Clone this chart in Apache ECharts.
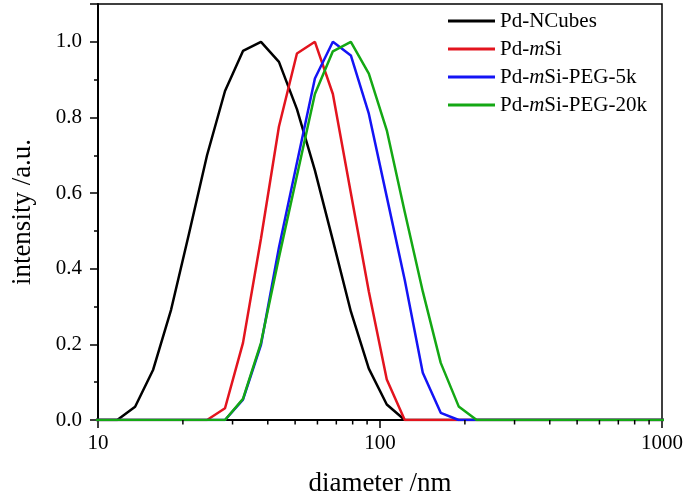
<!DOCTYPE html>
<html>
<head>
<meta charset="utf-8">
<script src="https://cdn.jsdelivr.net/npm/echarts@6/dist/echarts.min.js"></script>
<style>
  html, body { margin: 0; padding: 0; background: #fff; }
  #chart { width: 687px; height: 498px; }
</style>
</head>
<body>
<div id="chart"></div>
<script>
// Size classes (nm), log spaced
const sizes = [8.721, 10.1, 11.7, 13.54, 15.69, 18.17, 21.04, 24.36, 28.21, 32.67, 37.84, 43.82,
  50.75, 58.77, 68.06, 78.82, 91.28, 105.7, 122.4, 141.8, 164.2, 190.1, 220.2, 255.0,
  295.3, 342.0, 396.1, 458.7, 531.2, 615.1, 712.4, 825.0, 955.4, 1106];

// Intensity per size class
const nCubes = [0, 0, 0, 0.035, 0.133, 0.292, 0.494, 0.70, 0.870, 0.976, 1.0, 0.947,
  0.822, 0.66, 0.475, 0.287, 0.136, 0.041, 0, 0, 0, 0, 0, 0,
  0, 0, 0, 0, 0, 0, 0, 0, 0, 0];
const mSi = [0, 0, 0, 0, 0, 0, 0, 0, 0.031, 0.204, 0.48, 0.776,
  0.969, 1.0, 0.862, 0.60, 0.34, 0.107, 0, 0, 0, 0, 0, 0,
  0, 0, 0, 0, 0, 0, 0, 0, 0, 0];
const peg5k = [0, 0, 0, 0, 0, 0, 0, 0, 0, 0.054, 0.199, 0.456,
  0.68, 0.903, 1.0, 0.964, 0.81, 0.59, 0.37, 0.125, 0.019, 0, 0, 0,
  0, 0, 0, 0, 0, 0, 0, 0, 0, 0];
const peg20k = [0, 0, 0, 0, 0, 0, 0, 0, 0, 0.056, 0.204, 0.43,
  0.646, 0.862, 0.975, 1.0, 0.916, 0.766, 0.55, 0.34, 0.151, 0.036, 0, 0,
  0, 0, 0, 0, 0, 0, 0, 0, 0, 0];

const seriesNames = ['Pd-NCubes', 'Pd-mSi', 'Pd-mSi-PEG-5k', 'Pd-mSi-PEG-20k'];
const seriesColors = ['#000000', '#e3141e', '#1414f5', '#14a814'];
const seriesValues = [nCubes, mSi, peg5k, peg20k];

// minor ticks of the log axis
const minorXTicks = [20, 30, 40, 50, 60, 70, 80, 90, 200, 300, 400, 500, 600, 700, 800, 900];

const FONT = '"Liberation Serif", "Times New Roman", serif';

const chart = echarts.init(document.getElementById('chart'));

const lineSeries = seriesNames.map((name, i) => ({
  name: name,
  type: 'line',
  data: sizes.map((s, j) => [s, seriesValues[i][j]]),
  showSymbol: false,
  symbol: 'none',
  lineStyle: { color: seriesColors[i], width: 2.5 },
  itemStyle: { color: seriesColors[i] },
  z: 3 + i
}));

const option = {
  animation: false,
  backgroundColor: '#fff',
  grid: {
    left: 98,
    right: 25,
    top: 4,
    bottom: 78,
    outerBoundsMode: 'none',
    show: true,
    borderColor: '#000',
    borderWidth: 1.5
  },
  legend: {
    data: seriesNames,
    orient: 'vertical',
    left: 443,
    top: 5,
    icon: 'rect',
    itemWidth: 47,
    itemHeight: 3,
    itemGap: 6,
    formatter: n => n.replace('-m', '-{i|m}'),
    textStyle: {
      fontFamily: FONT,
      fontSize: 21,
      lineHeight: 22,
      color: '#000',
      rich: {
        i: { fontFamily: FONT, fontSize: 21, fontStyle: 'italic', color: '#000', lineHeight: 22 }
      }
    }
  },
  xAxis: {
    type: 'log',
    logBase: 10,
    min: 10,
    max: 1000,
    name: 'diameter /nm',
    nameLocation: 'middle',
    nameGap: 50,
    nameTextStyle: { fontFamily: FONT, fontSize: 27, color: '#000' },
    axisLine: { show: true, lineStyle: { color: '#000', width: 2 } },
    axisTick: { show: true, inside: false, length: 8, lineStyle: { color: '#000', width: 1.5 } },
    axisLabel: {
      fontFamily: FONT,
      fontSize: 21,
      color: '#000',
      margin: 13,
      formatter: v => String(Math.round(v))
    },
    splitLine: { show: false }
  },
  yAxis: {
    type: 'value',
    min: 0,
    max: 1.1,
    interval: 0.2,
    name: 'intensity /a.u.',
    nameLocation: 'middle',
    nameGap: 62,
    nameTextStyle: { fontFamily: FONT, fontSize: 27, color: '#000' },
    axisLine: { show: true, lineStyle: { color: '#000', width: 2 } },
    axisTick: { show: true, inside: false, length: 8, lineStyle: { color: '#000', width: 1.5 } },
    minorTick: { show: true, splitNumber: 2, length: 4, lineStyle: { color: '#000', width: 1.5 } },
    axisLabel: {
      fontFamily: FONT,
      fontSize: 21,
      color: '#000',
      margin: 16,
      formatter: v => (v > 1.05 ? '' : v.toFixed(1))
    },
    splitLine: { show: false },
    minorSplitLine: { show: false }
  },
  series: lineSeries.concat([{
    name: 'minorTicks',
    type: 'custom',
    silent: true,
    clip: false,
    z: 10,
    data: minorXTicks.map(v => [v, 0]),
    renderItem: (params, api) => {
      const p = api.coord([api.value(0), 0]);
      return {
        type: 'line',
        shape: { x1: p[0], y1: p[1], x2: p[0], y2: p[1] + 4.5 },
        style: { stroke: '#000', lineWidth: 1.5 }
      };
    }
  }])
};

chart.setOption(option);
</script>
</body>
</html>
